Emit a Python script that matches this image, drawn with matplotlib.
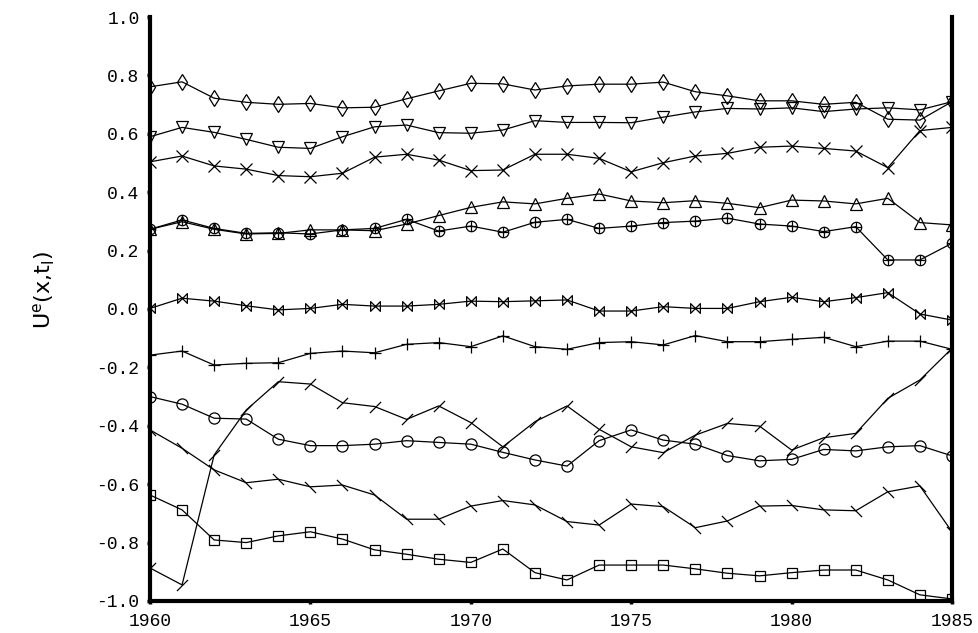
import matplotlib
matplotlib.use('Agg')
import matplotlib.pyplot as plt
from matplotlib.path import Path

years = list(range(1960, 1986))

diamond = [0.761, 0.778, 0.722, 0.708, 0.701, 0.704, 0.689, 0.691, 0.720, 0.747, 0.773, 0.771, 0.750,
           0.764, 0.770, 0.770, 0.777, 0.744, 0.730, 0.713, 0.713, 0.701, 0.708, 0.650, 0.647, 0.710]
tri_down = [0.590, 0.622, 0.605, 0.581, 0.554, 0.550, 0.590, 0.624, 0.630, 0.604, 0.602, 0.613, 0.645,
            0.639, 0.639, 0.638, 0.657, 0.675, 0.687, 0.685, 0.689, 0.676, 0.685, 0.689, 0.682, 0.710]
cross = [0.504, 0.524, 0.490, 0.479, 0.457, 0.453, 0.465, 0.520, 0.530, 0.510, 0.474, 0.476, 0.530,
         0.530, 0.516, 0.470, 0.501, 0.524, 0.533, 0.554, 0.558, 0.550, 0.541, 0.484, 0.611, 0.622]
tri_up = [0.273, 0.299, 0.273, 0.257, 0.259, 0.271, 0.271, 0.268, 0.291, 0.320, 0.348, 0.367, 0.360,
          0.379, 0.394, 0.370, 0.364, 0.371, 0.362, 0.347, 0.373, 0.370, 0.360, 0.379, 0.296, 0.288]
circle_plus = [0.273, 0.305, 0.276, 0.259, 0.261, 0.257, 0.271, 0.276, 0.307, 0.267, 0.284, 0.263, 0.297,
               0.307, 0.276, 0.284, 0.296, 0.301, 0.311, 0.291, 0.284, 0.265, 0.282, 0.168, 0.168, 0.225]
bowtie = [0.002, 0.037, 0.027, 0.011, -0.003, 0.002, 0.016, 0.010, 0.010, 0.016, 0.027, 0.025, 0.028,
          0.031, -0.007, -0.007, 0.008, 0.002, 0.002, 0.025, 0.040, 0.025, 0.039, 0.056, -0.017, -0.038]
plus = [-0.158, -0.144, -0.192, -0.186, -0.184, -0.152, -0.144, -0.150, -0.121, -0.115, -0.129, -0.092, -0.129,
        -0.138, -0.115, -0.112, -0.123, -0.091, -0.112, -0.112, -0.104, -0.097, -0.129, -0.110, -0.110, -0.138]
circle = [-0.300, -0.326, -0.374, -0.377, -0.446, -0.468, -0.468, -0.463, -0.451, -0.457, -0.463, -0.491, -0.517,
          -0.538, -0.451, -0.414, -0.449, -0.463, -0.502, -0.520, -0.515, -0.481, -0.486, -0.472, -0.468, -0.503]
back_tick = [-0.414, -0.477, -0.551, -0.595, -0.583, -0.609, -0.603, -0.637, -0.720, -0.720, -0.675, -0.656, -0.671,
             -0.728, -0.740, -0.668, -0.677, -0.749, -0.726, -0.675, -0.673, -0.688, -0.691, -0.626, -0.606, -0.763]
slash_tick = [-0.887, -0.945, -0.500, -0.346, -0.249, -0.257, -0.321, -0.334, -0.378, -0.332, -0.389, -0.472, -0.386,
              -0.332, -0.412, -0.472, -0.492, -0.432, -0.392, -0.401, -0.483, -0.441, -0.426, -0.306, -0.243, -0.135]
square = [-0.637, -0.688, -0.791, -0.800, -0.777, -0.763, -0.788, -0.825, -0.840, -0.857, -0.868, -0.822, -0.903,
          -0.928, -0.877, -0.877, -0.877, -0.890, -0.905, -0.914, -0.903, -0.894, -0.894, -0.928, -0.979, -0.993]

y_ticks = [-1.0, -0.8, -0.6, -0.4, -0.2, 0.0, 0.2, 0.4, 0.6, 0.8, 1.0]
x_ticks = [1960, 1965, 1970, 1975, 1980, 1985]

plt.rcParams['axes.unicode_minus'] = False
plt.rcParams['mathtext.default'] = 'regular'

# custom marker shapes
bowtie_marker = Path([(-1, 1), (1, -1), (1, 1), (-1, -1), (-1, 1)],
                     [Path.MOVETO, Path.LINETO, Path.LINETO, Path.LINETO, Path.CLOSEPOLY])
back_marker = Path([(-1, 1), (1, -1)], [Path.MOVETO, Path.LINETO])
slash_marker = Path([(-1, -1), (1, 1)], [Path.MOVETO, Path.LINETO])

fig = plt.figure(figsize=(9.79, 6.33), dpi=100)
ax = fig.add_axes([0.1532, 0.0506, 0.8192, 0.9225])

line_kw = dict(color='black', linewidth=0.9, markerfacecolor='none',
               markeredgecolor='black', markeredgewidth=0.9)

ax.plot(years, diamond, marker='d', markersize=8, **line_kw)
ax.plot(years, tri_down, marker='v', markersize=8, **line_kw)
ax.plot(years, cross, marker='x', markersize=8, **line_kw)
ax.plot(years, tri_up, marker='^', markersize=8, **line_kw)
ax.plot(years, circle_plus, marker='o', markersize=7.5, **line_kw)
ax.plot(years, circle_plus, marker='+', markersize=7.5, linestyle='none',
        markeredgecolor='black', markeredgewidth=0.9)
ax.plot(years, bowtie, marker=bowtie_marker, markersize=7, **line_kw)
ax.plot(years, plus, marker='+', markersize=8, **line_kw)
ax.plot(years, circle, marker='o', markersize=8, **line_kw)
ax.plot(years, back_tick, marker=back_marker, markersize=8, **line_kw)
ax.plot(years, slash_tick, marker=slash_marker, markersize=8, **line_kw)
ax.plot(years, square, marker='s', markersize=7, **line_kw)

ax.set_xlim(1960, 1985)
ax.set_ylim(-1.0, 1.0)
ax.set_xticks(x_ticks)
ax.set_yticks(y_ticks)
ax.set_yticklabels(['%.1f' % v for v in y_ticks])

ax.spines['top'].set_visible(False)
for side in ['left', 'right', 'bottom']:
    ax.spines[side].set_linewidth(3)

ax.tick_params(direction='out', length=2.5, width=2.5, pad=5,
               labelsize=13, labelfontfamily='Liberation Mono')
ax.tick_params(axis='x', pad=6)

fig.text(0.045, 1 - 290 / 633, 'U$^{e}$(x,t$_{l}$)', rotation=90,
         ha='center', va='center', fontsize=16, family='DejaVu Sans')

fig.savefig('out.png', dpi=100)
